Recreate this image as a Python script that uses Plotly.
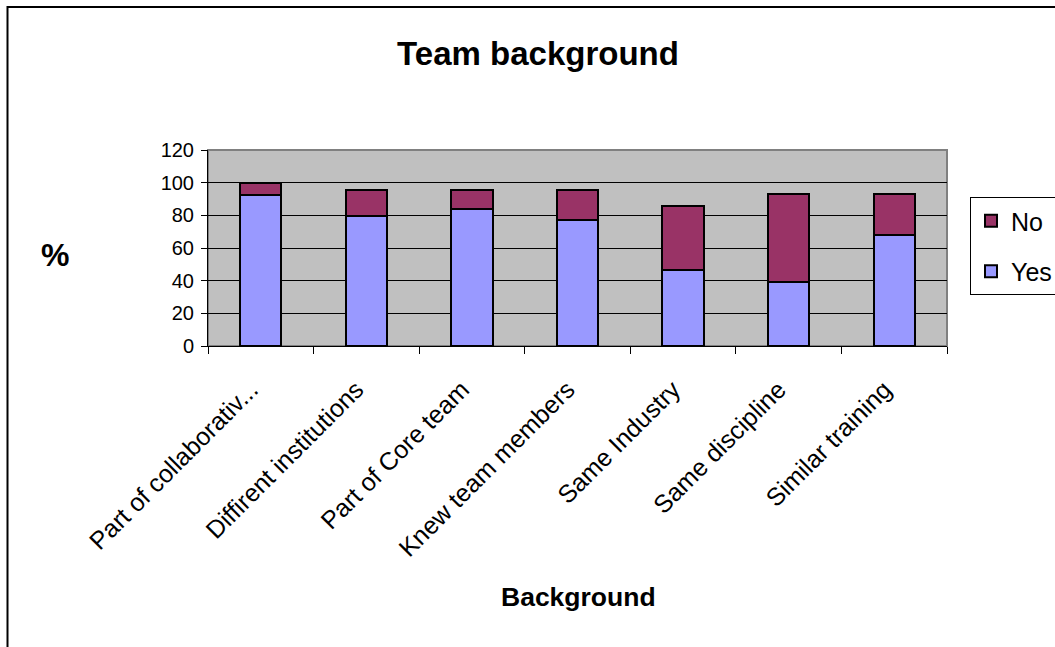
import plotly.graph_objects as go

# Survey answers per background question (percent of respondents)
categories = [
    "Part of collaborativ...",
    "Diffirent institutions",
    "Part of Core team",
    "Knew team members",
    "Same Industry",
    "Same discipline",
    "Similar training",
]
yes_values = [92.6, 79.6, 84.0, 77.0, 46.3, 39.0, 68.0]
no_values = [7.4, 16.0, 11.7, 18.7, 39.2, 53.8, 24.8]

y_ticks = [0, 20, 40, 60, 80, 100, 120]

FONT = "Liberation Sans, Arial, sans-serif"

fig = go.Figure()
fig.add_trace(go.Bar(
    name="Yes", x=categories, y=yes_values, legendrank=2, legendgroup="yes",
    marker=dict(color="#9999FF", line=dict(color="black", width=2)),
))
fig.add_trace(go.Bar(
    name="No", x=categories, y=no_values, legendrank=1, legendgroup="no",
    marker=dict(color="#993366", line=dict(color="black", width=2)),
))

# plot area in pixels: x 208..947, y 150..346
W, H = 1055, 647
L, R, T, B = 208, 947, 150, 346
pw, ph = R - L, B - T


def px_x(x):
    return (x - L) / pw


def px_y(y):
    return (B - y) / ph


fig.update_layout(
    width=W, height=H,
    margin=dict(l=L, r=W - R, t=T, b=H - B),
    paper_bgcolor="white",
    plot_bgcolor="#C0C0C0",
    barmode="stack",
    bargap=0.61,
    font=dict(family=FONT, color="black"),
    title=dict(
        text="<b>Team background</b>",
        x=538 / W, xref="container", xanchor="center",
        y=1 - 53 / H, yref="container", yanchor="middle",
        font=dict(size=33, family=FONT, color="black"),
    ),
    showlegend=True,
    legend=dict(
        xref="container", yref="container",
        x=970 / W, y=1 - 197 / H, xanchor="left", yanchor="top",
        bordercolor="black", borderwidth=1, bgcolor="white",
        traceorder="grouped", tracegroupgap=15, itemwidth=30,
        font=dict(size=25, family=FONT, color="black"),
    ),
    xaxis=dict(
        type="category",
        tickangle=-45,
        tickfont=dict(size=25, family=FONT, color="black"),
        ticks="outside", ticklen=7, tickcolor="black", tickson="boundaries",
        ticklabelstandoff=18, ticklabelshift=-10,
        showline=True, linecolor="black", linewidth=1,
        showgrid=False, automargin=False,
    ),
    yaxis=dict(
        range=[0, 120], tickvals=y_ticks,
        tickfont=dict(size=20, family=FONT, color="black"),
        ticks="outside", ticklen=6, tickcolor="black",
        ticklabelstandoff=3,
        showline=True, linecolor="black", linewidth=1,
        showgrid=True, gridcolor="black", gridwidth=1,
        zeroline=False, automargin=False,
    ),
    shapes=[
        # grey frame around the plotting area
        dict(type="rect", xref="paper", yref="paper", x0=0, x1=1, y0=0, y1=1,
             line=dict(color="#808080", width=2), layer="below"),
        # outer chart border
        dict(type="rect", xref="paper", yref="paper",
             x0=px_x(7.5), x1=px_x(1120), y0=px_y(700), y1=px_y(7),
             line=dict(color="black", width=2), fillcolor="rgba(0,0,0,0)"),
    ],
    annotations=[
        dict(text="<b>Background</b>", xref="paper", yref="paper",
             x=px_x(578), y=px_y(597), xanchor="center", yanchor="middle",
             showarrow=False, font=dict(size=26.5, family=FONT, color="black")),
        dict(text="<b>%</b>", xref="paper", yref="paper",
             x=px_x(55), y=px_y(255), xanchor="center", yanchor="middle",
             showarrow=False, font=dict(size=32, family=FONT, color="black")),
    ],
)

fig.write_html("out.html")
